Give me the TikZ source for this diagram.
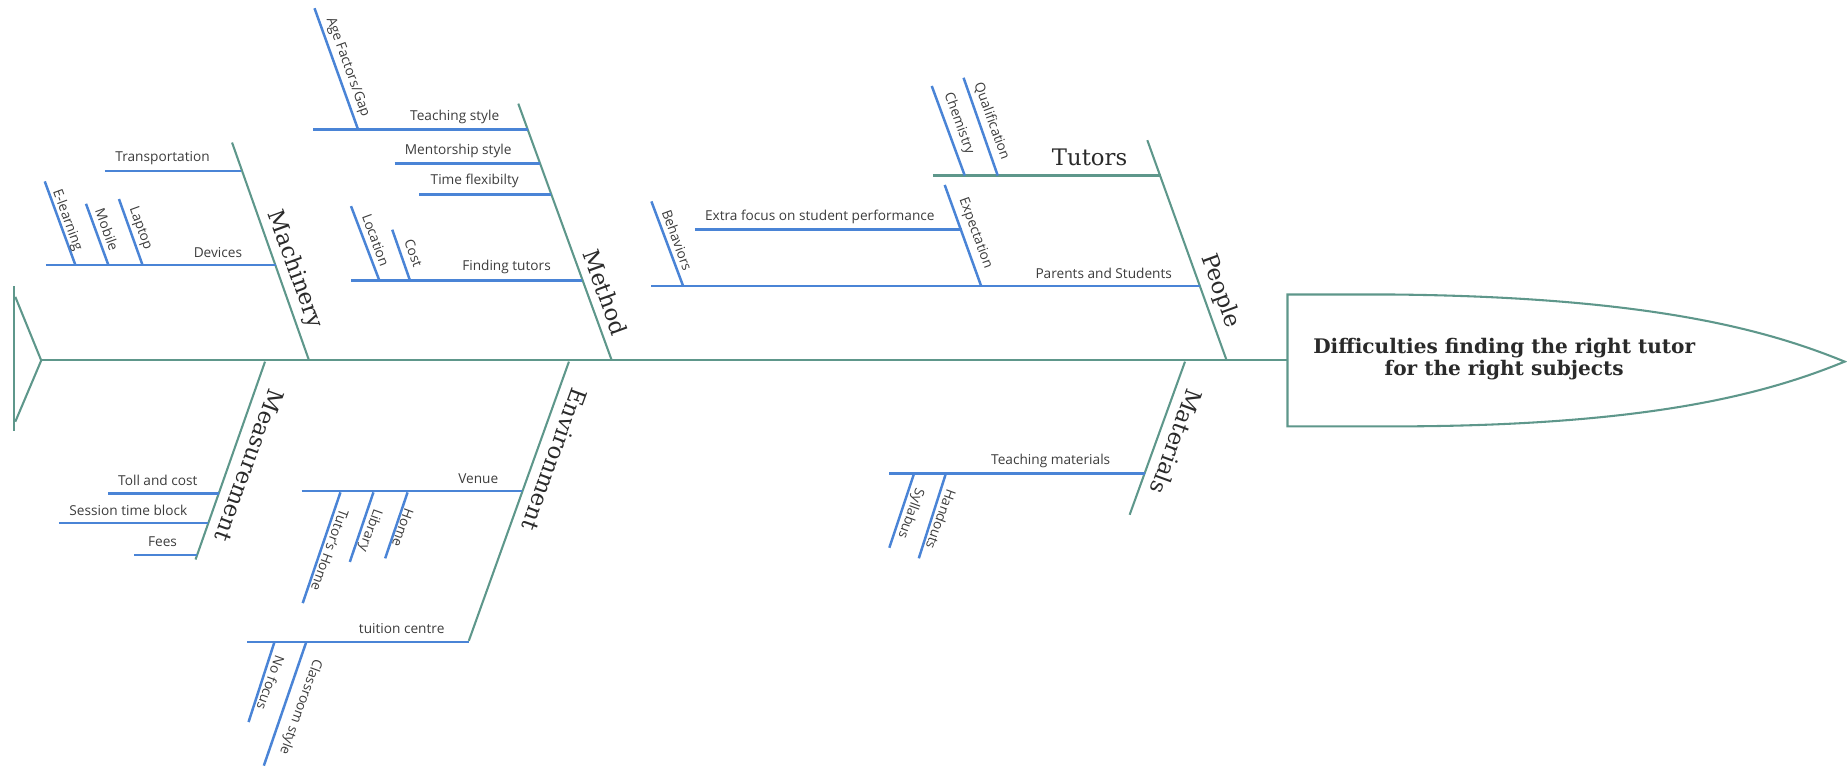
\documentclass[tikz,border=0pt]{standalone}
\usepackage{fontspec}
\setmainfont{Open Sans}
\newfontfamily\serifcat{DejaVu Serif}
\usepackage{tikz}

\definecolor{bonecol}{HTML}{5E978B}
\definecolor{ribcol}{HTML}{4A84D6}
\definecolor{txtdark}{HTML}{2A2A2A}
\definecolor{txtgrey}{HTML}{3C3C3C}
\newcommand{\catfont}{\serifcat\fontsize{11}{13}\selectfont}
\newcommand{\leaffont}{\fontsize{6.6}{8}\selectfont}

\begin{document}
\begin{tikzpicture}[x=0.2mm, y=-0.2mm,
                    bone/.style={draw=bonecol, line width=1pt},
                    rib/.style={draw=ribcol, line width=1.2pt},
                    catlabel/.style={font=\catfont, text=txtdark, inner sep=0pt},
                    leaflabel/.style={font=\leaffont, text=txtgrey, inner sep=0pt}]
    \useasboundingbox (0,0) rectangle (1568,652);

    % spine, tail and head
    \coordinate (tail) at (35,306);
    \coordinate (neck) at (1093,306);
    \coordinate (finT) at (12,243);
    \coordinate (finB) at (12,366);
    \draw[bone] (tail) -- (neck);
    \draw[bone] (finT) -- (finB);
    \draw[bone] (13,252) -- (tail) -- (13,358);
    \draw[bone, fill=white] (1093,250) -- (1180,250)
        .. controls (1400,252) and (1500,280) .. (1566,307)
        .. controls (1500,334) and (1400,362) .. (1180,362) -- (1093,362) -- cycle;
    \node[font=\serifcat\bfseries\fontsize{9.7}{10.6}\selectfont, text=txtdark,
          align=center] (problem) at (1277,305)
          {Difficulties finding the right tutor\\for the right subjects};

    % main bones
    \foreach \nm/\ax/\ay/\bx/\by/\lx/\ly/\ang/\txt in {
            mach/197/121/262/305/250/229/-70/Machinery,
            meth/440/88/519/305/514/248/-70/Method,
            peop/974/119/1041/305/1036/247/-70/People,
            meas/225/307/166/475/212/395/-110/Measurement,
            envi/483/307/398/544/471/390/-110/Environment,
            mate/1006/307/959/437/999/375/-110/Materials} {
        \coordinate (\nm A) at (\ax,\ay);
        \coordinate (\nm B) at (\bx,\by);
        \draw[bone] (\nm A) -- (\nm B);
        \node[catlabel, rotate=\ang] (\nm) at (\lx,\ly) {\txt};
    }

    % causes
    \foreach \nm/\xa/\xb/\y/\lx/\txt in {
            trans/89/205/145/138/Transportation,
            devic/39/234/225/185/Devices,
            teach/266/448/110/386/Teaching style,
            mentr/335/458/139/389/Mentorship style,
            timef/356/468/165/403/Time flexibilty,
            findt/298/494/238/430/Finding tutors,
            paren/553/1019/243/937/Parents and Students,
            extra/590/817/195/696/Extra focus on student performance,
            tollc/92/186/419/134/Toll and cost,
            sessn/50/177/444/109/Session time block,
            feesx/114/167/471/138/Fees,
            venue/256/443/417/406/Venue,
            tuitn/210/398/545/341/tuition centre,
            tmatl/755/972/402/892/Teaching materials} {
        \coordinate (\nm L) at (\xa,\y);
        \coordinate (\nm R) at (\xb,\y);
        \draw[rib] (\nm L) -- (\nm R);
        \node[leaflabel] (\nm) at (\lx,\y-11) {\txt};
    }

    \coordinate (tutoL) at (792,149);
    \coordinate (tutoR) at (986,149);
    \draw[bone] (tutoL) -- (tutoR);
    \node[catlabel] (tuto) at (925,134) {Tutors};

    % sub-causes
    \foreach \nm/\ax/\ay/\bx/\by/\lx/\ly/\ang/\txt in {
            elrn/38/154/64/225/57/187/-70/E-learning,
            mobl/73/173/92/225/91/195/-70/Mobile,
            lapt/101/169/121/225/119/194/-70/Laptop,
            agef/267/7/304/110/295/57/-70/{Age Factors/Gap},
            loca/298/175/322/238/319/204/-70/Location,
            cost/333/195/348/238/351/215/-70/Cost,
            chem/791/73/819/149/814/105/-70/Chemistry,
            qual/818/66/847/149/842/103/-70/Qualification,
            behv/553/171/580/243/575/204/-70/Behaviors,
            expc/802/157/833/243/828/198/-70/Expectation,
            thom/289/418/257/512/280/467/-110/Tutor's Home,
            libr/317/418/297/477/314/450/-110/Library,
            home/346/418/327/474/342/448/-110/Home,
            nofc/233/545/211/613/230/580/-110/No focus,
            clsr/260/545/224/650/255/600/-110/Classroom style,
            syll/776/402/755/465/773/436/-110/Syllabus,
            hand/803/402/780/474/799/441/-110/Handouts} {
        \coordinate (\nm T) at (\ax,\ay);
        \coordinate (\nm B) at (\bx,\by);
        \draw[rib] (\nm T) -- (\nm B);
        \node[leaflabel, rotate=\ang] (\nm) at (\lx,\ly) {\txt};
    }
\end{tikzpicture}
\end{document}
